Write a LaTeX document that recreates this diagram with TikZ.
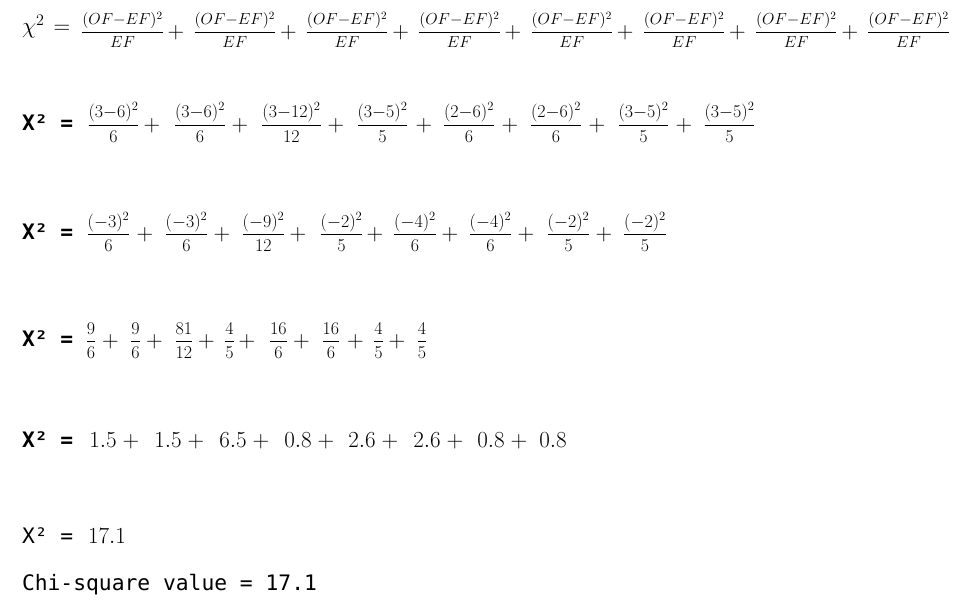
\RequirePackage{fix-cm}
\documentclass[tikz,border=0pt]{standalone}
\usepackage{amsmath}
\usepackage{fontspec}
\newfontfamily\cons{DejaVu Sans Mono}
\newcommand{\fr}[2]{\genfrac{}{}{1pt}{0}{#1}{#2}}
\begin{document}
\begin{tikzpicture}[x=1pt,y=-1pt,
  every node/.style={inner sep=0pt,outer sep=0pt},
  fraca/.style={font=\fontsize{16}{19}\selectfont,anchor=base},
  frac/.style={font=\fontsize{18}{21}\selectfont,anchor=base},
  plus/.style={font=\fontsize{23}{27}\selectfont,anchor=center},
  bigm/.style={font=\fontsize{23}{27}\selectfont,anchor=base},
  monob/.style={font={\cons\bfseries\fontsize{21.3}{25}\selectfont},anchor=base west},
  mono/.style={font={\cons\fontsize{21.3}{25}\selectfont},anchor=base west}]
\fill[white] (0,0) rectangle (956,609);
\useasboundingbox (0,0) rectangle (956,609);
% Row 1
\node[bigm,anchor=base west] (chi) at (22,34) {$\chi^2$};
\node[bigm] (eq1) at (62,34) {$=$};
\foreach \i in {0,...,7}
  \node[fraca] (a\i) at ({122.5+112.3*\i},36.5) {$\fr{(OF{-}EF)^2}{EF}$};
\foreach \i in {0,...,6}
  \node[plus] (ap\i) at ({176+112.3*\i},32.5) {$+$};
% Row 2
\node[monob] (x2) at (22,130.5) {X² =};
\foreach \x/\a/\b/\d [count=\i] in {113.5/3/6/6,200/3/6/6,291.5/3/12/12,382.5/3/5/5,469/2/6/6,556/2/6/6,643.5/3/5/5,729.5/3/5/5}
  \node[frac] (b\i) at (\x,130) {$\fr{(\a{-}\b)^2}{\d}$};
\foreach \x [count=\i] in {152,240,336,424,510,597,684}
  \node[plus] (bp\i) at (\x,125.5) {$+$};
% Row 3
\node[monob] (x3) at (22,240) {X² =};
\foreach \x/\a/\d [count=\i] in {108.5/3/6,186.5/3/6,263.5/9/12,341.5/2/5,415/4/6,490.5/4/6,568.5/2/5,645/2/5}
  \node[frac] (c\i) at (\x,239.5) {$\fr{(-\a)^2}{\d}$};
\foreach \x [count=\i] in {145,222,298,375,450,526,604}
  \node[plus] (cp\i) at (\x,235) {$+$};
% Row 4
\node[monob] (x4) at (22,347) {X² =};
\foreach \x/\n/\d [count=\i] in {91/9/6,135.5/9/6,184/81/12,229.5/4/5,278.5/16/6,331/16/6,378.5/4/5,422/4/5}
  \node[frac] (d\i) at (\x,346.5) {$\fr{\n}{\d}$};
\foreach \x [count=\i] in {110.5,154.5,206.5,247,301.5,355.5,397}
  \node[plus] (dp\i) at (\x,342) {$+$};
% Row 5
\node[monob] (x5) at (22,447) {X² =};
\foreach \x/\v [count=\i] in {103/1.5,168/1.5,233/6.5,298/0.8,362/2.6,427/2.6,491/0.8,553/0.8}
  \node[bigm] (e\i) at (\x,447) {$\v$};
\foreach \x [count=\i] in {131,196,261,326,390,455,519}
  \node[bigm] (ep\i) at (\x,447) {$+$};
% Row 6
\node[mono] (x6) at (22,543) {X² =};
\node[bigm,anchor=base west] (res) at (88,543) {$17.1$};
% Row 7
\node[mono] (chisq) at (22,590) {Chi-square value = 17.1};
\end{tikzpicture}
\end{document}
